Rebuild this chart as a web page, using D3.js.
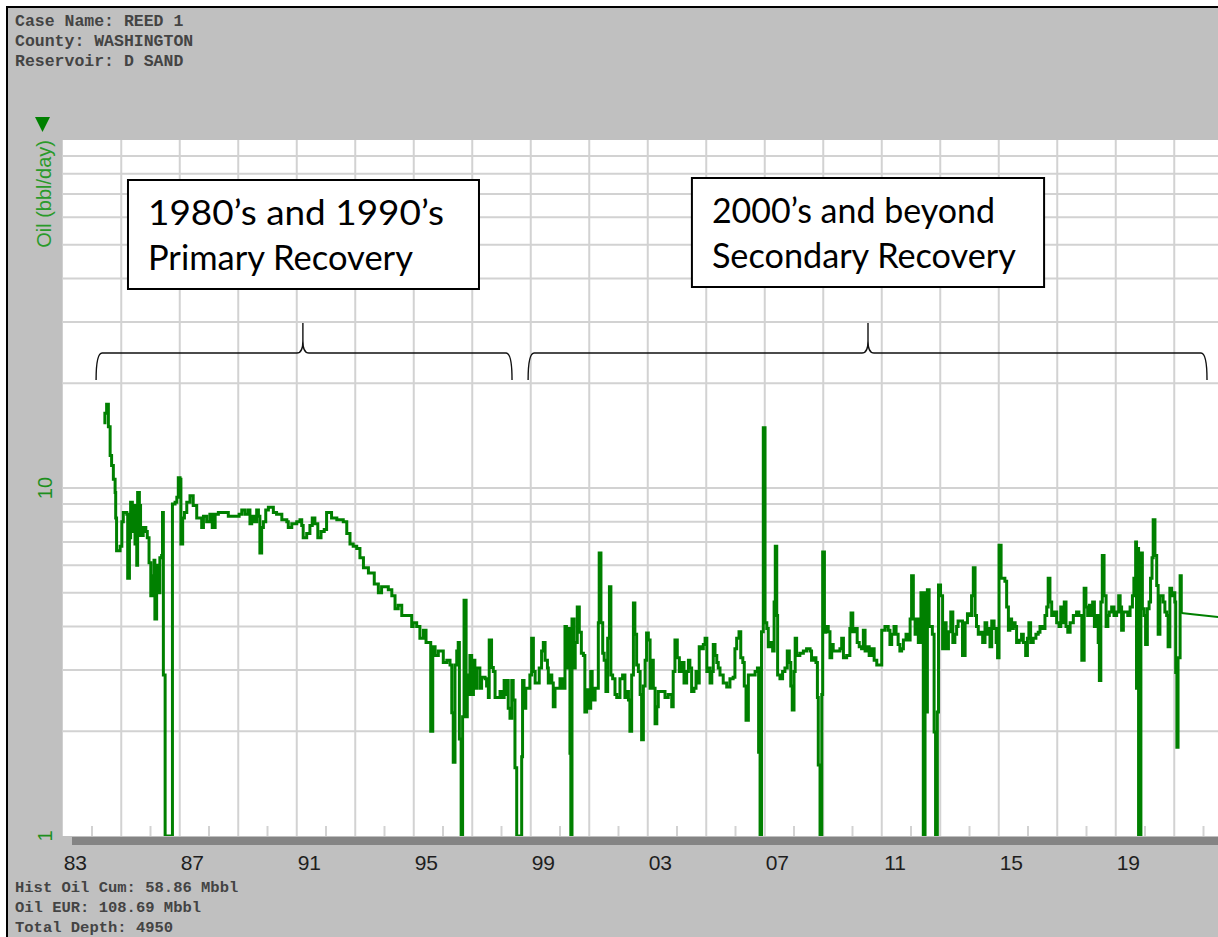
<!DOCTYPE html>
<html>
<head>
<meta charset="utf-8">
<script src="https://cdn.jsdelivr.net/npm/d3@7"></script>
<style>
  html, body { margin: 0; padding: 0; background: #fff; }
  svg { display: block; }
</style>
</head>
<body>
<svg id="chart"></svg>
<script>
var width = 1218;
var height = 937;

var headerLines = ["Case Name: REED 1", "County: WASHINGTON", "Reservoir: D SAND"];
var footerLines = ["Hist Oil Cum: 58.86 Mbbl", "Oil EUR: 108.69 Mbbl", "Total Depth: 4950"];

var labelYears = [1983, 1987, 1991, 1995, 1999, 2003, 2007, 2011, 2015, 2019];
var yearLabels = ["83", "87", "91", "95", "99", "03", "07", "11", "15", "19"];
var yTicks = [1, 10];
var yLabel = "Oil (bbl/day)";

// monthly oil rate, bbl/day  [decimal year, rate]  (0 = shut in)
var oil1983 = [[1983.39,15.4],[1983.44,16.4],[1983.50,17.4],[1983.56,15.0],[1983.62,12.4],[1983.67,11.6],[1983.73,10.6],[1983.79,9.7],[1983.81,8.2],[1983.84,6.6],[1983.96,6.8],[1984.02,8.0],[1984.07,8.5],[1984.19,8.4],[1984.22,5.5],[1984.28,7.2],[1984.32,9.1],[1984.38,7.5],[1984.44,8.9],[1984.47,6.9],[1984.53,6.0],[1984.56,9.7],[1984.62,8.9],[1984.66,7.3],[1984.75,7.7],[1984.84,7.5],[1984.89,7.2],[1984.95,6.1],[1985.01,4.9],[1985.06,5.6],[1985.12,6.2],[1985.15,4.2],[1985.21,6.0],[1985.27,5.0],[1985.32,6.3],[1985.38,6.4],[1985.41,8.5],[1985.44,2.9],[1985.50,0],[1985.75,9.0],[1985.84,9.1],[1985.90,9.4],[1985.95,10.7],[1986.01,10.6],[1986.04,6.9],[1986.10,8.2],[1986.16,8.5],[1986.24,9.1],[1986.35,9.5],[1986.46,8.9],[1986.58,8.2],[1986.75,7.7],[1986.81,8.3],[1986.92,8.0],[1987.03,8.4],[1987.11,7.7],[1987.21,8.4],[1987.32,8.5],[1987.55,8.5],[1987.66,8.3],[1987.89,8.3],[1988.03,8.4],[1988.12,8.65],[1988.23,8.4],[1988.34,8.65],[1988.40,7.9],[1988.46,8.3],[1988.55,8.0],[1988.63,8.65],[1988.69,8.3],[1988.74,6.5],[1988.80,7.7],[1988.86,8.0],[1988.94,8.65],[1989.03,8.8],[1989.20,8.5],[1989.31,8.4],[1989.49,8.1],[1989.66,8.0],[1989.71,7.7],[1989.83,7.9],[1990.00,8.0],[1990.11,8.1],[1990.17,7.8],[1990.22,7.2],[1990.34,7.4],[1990.45,7.8],[1990.53,8.2],[1990.62,7.9],[1990.72,7.2],[1990.83,7.5],[1990.94,7.6],[1991.02,8.5],[1991.19,8.2],[1991.37,8.1],[1991.59,8.0],[1991.71,7.4],[1991.82,6.9],[1991.93,6.8],[1992.05,6.7],[1992.16,6.3],[1992.28,5.9],[1992.45,5.7],[1992.56,5.7],[1992.65,5.3],[1992.79,5.0],[1992.90,5.2]];

var oil1993 = [[1993.13,5.1],[1993.25,4.9],[1993.36,4.5],[1993.47,4.6],[1993.59,4.3],[1993.76,4.3],[1993.93,4.0],[1993.98,4.1],[1994.10,4.0],[1994.21,3.7],[1994.33,3.9],[1994.42,3.6],[1994.50,3.6],[1994.58,2.0],[1994.65,3.5],[1994.73,3.3],[1994.84,3.4],[1994.96,3.4],[1995.01,3.15],[1995.13,3.2],[1995.24,3.1],[1995.30,2.26],[1995.35,1.63],[1995.41,3.1],[1995.47,3.4],[1995.52,3.6],[1995.56,1.9],[1995.62,0],[1995.67,2.2],[1995.72,4.76],[1995.79,2.2],[1995.83,2.9],[1995.86,2.55],[1995.92,3.3],[1995.98,2.55],[1996.04,3.2],[1996.09,2.66],[1996.15,3.04],[1996.26,2.66],[1996.32,2.86],[1996.44,2.83],[1996.49,2.7],[1996.55,2.5],[1996.58,3.66],[1996.66,3.05],[1996.72,2.97],[1996.78,2.5],[1996.95,2.6],[1997.01,2.5],[1997.09,2.8],[1997.15,2.55],[1997.18,2.8],[1997.23,2.33],[1997.29,2.18],[1997.35,2.8],[1997.40,2.46],[1997.46,1.57],[1997.52,0],[1997.69,1.69],[1997.72,2.8],[1997.77,2.33],[1997.83,2.66],[1997.97,2.9],[1998.03,3.7],[1998.09,2.97],[1998.15,2.75],[1998.29,3.04],[1998.37,3.4],[1998.43,3.6],[1998.49,3.2],[1998.57,3.04],[1998.60,2.75],[1998.66,2.9],[1998.72,2.75],[1998.77,2.35],[1998.83,2.66],[1999.00,2.83],[1999.09,2.66],[1999.17,4.0],[1999.22,3.04],[1999.28,3.95],[1999.34,1.73],[1999.37,0],[1999.41,4.2],[1999.48,3.04],[1999.52,3.6],[1999.59,4.55],[1999.66,3.85],[1999.73,3.35],[1999.80,3.3],[1999.85,2.27],[1999.91,2.63],[1999.97,2.33],[2000.05,2.97],[2000.10,2.46],[2000.20,2.66],[2000.31,4.1],[2000.34,6.5],[2000.40,4.1],[2000.46,3.35],[2000.51,3.2],[2000.57,2.6],[2000.63,3.7],[2000.69,5.2],[2000.74,2.9],[2000.80,2.83],[2000.88,2.55],[2000.94,2.5],[2001.05,2.83],[2001.14,2.9],[2001.22,2.5],[2001.28,2.6],[2001.34,2.46],[2001.39,2.0],[2001.45,2.9],[2001.51,4.67],[2001.56,3.8],[2001.62,3.1],[2001.68,2.97],[2001.74,2.55],[2001.79,1.89],[2001.85,2.7],[2001.91,3.2],[2001.96,3.83],[2002.02,3.66],[2002.08,2.66],[2002.13,3.2],[2002.19,2.66],[2002.25,2.1],[2002.31,2.35],[2002.36,2.6],[2002.48,2.6],[2002.59,2.5],[2002.70,2.55],[2002.82,2.35],[2002.87,2.97],[2002.93,3.66]];

var oil2003 = [[2003.01,3.25],[2003.08,2.97],[2003.16,3.15],[2003.24,2.75],[2003.33,2.97],[2003.39,3.2],[2003.44,3.04],[2003.50,2.6],[2003.58,2.66],[2003.65,2.97],[2003.69,2.75],[2003.76,3.5],[2003.84,3.45],[2003.90,3.55],[2003.96,3.7],[2004.02,2.97],[2004.07,3.04],[2004.13,2.75],[2004.19,2.97],[2004.24,3.55],[2004.30,3.3],[2004.36,3.15],[2004.41,3.04],[2004.47,2.9],[2004.58,2.75],[2004.70,2.68],[2004.81,2.83],[2004.92,2.86],[2004.98,3.45],[2005.04,3.7],[2005.12,3.86],[2005.18,3.25],[2005.25,3.15],[2005.30,2.7],[2005.36,2.15],[2005.44,2.9],[2005.55,2.9],[2005.67,2.97],[2005.75,3.04],[2005.79,1.74],[2005.84,0],[2005.89,3.86],[2005.95,14.9],[2006.01,4.1],[2006.07,3.95],[2006.12,3.5],[2006.20,3.6],[2006.27,3.4],[2006.32,4.7],[2006.36,6.8],[2006.41,4.3],[2006.44,2.9],[2006.52,2.83],[2006.61,2.97],[2006.69,3.04],[2006.77,3.4],[2006.84,3.15],[2006.89,2.7],[2006.94,2.3],[2007.00,2.97],[2007.04,3.7],[2007.09,3.3],[2007.20,3.35],[2007.32,3.4],[2007.43,3.45],[2007.55,3.4],[2007.60,3.2],[2007.68,3.25],[2007.75,3.15],[2007.80,2.5],[2007.83,1.6],[2007.89,0],[2007.95,2.55],[2007.98,6.55],[2008.04,3.85],[2008.09,4.0],[2008.17,3.86],[2008.23,3.25],[2008.29,3.55],[2008.34,3.4],[2008.57,3.45],[2008.63,3.7],[2008.69,3.25],[2008.80,3.3],[2008.91,3.95],[2008.95,4.37],[2009.01,3.86],[2009.09,3.95],[2009.16,3.6],[2009.23,3.5],[2009.31,3.45],[2009.37,3.9],[2009.43,3.4],[2009.48,3.5],[2009.57,3.3],[2009.66,3.45],[2009.74,3.2],[2009.83,3.1],[2010.00,3.9],[2010.11,4.0],[2010.22,3.9],[2010.28,3.55],[2010.34,3.8],[2010.42,4.0],[2010.49,3.8],[2010.56,3.55],[2010.62,3.4],[2010.68,3.45],[2010.74,3.66],[2010.83,3.8],[2010.91,3.66],[2010.97,4.2],[2011.02,5.6],[2011.08,4.2],[2011.14,3.8],[2011.19,4.2],[2011.25,3.6],[2011.31,4.2],[2011.34,5.0],[2011.39,3.6],[2011.42,0],[2011.48,5.0],[2011.51,2.27],[2011.56,5.1],[2011.62,4.0],[2011.73,3.8],[2011.79,1.99],[2011.84,0],[2011.90,2.27],[2011.94,5.26],[2012.01,4.9],[2012.08,3.45],[2012.13,4.1],[2012.20,3.45],[2012.28,3.86],[2012.36,4.4],[2012.43,3.6],[2012.50,3.8],[2012.56,4.0],[2012.61,4.15],[2012.76,3.3],[2012.85,4.1],[2012.93,4.35]];

var oil2013 = [[2013.02,4.3],[2013.07,4.9],[2013.13,5.9],[2013.19,4.3],[2013.24,4.0],[2013.30,3.8],[2013.38,3.85],[2013.45,3.6],[2013.53,4.1],[2013.59,3.8],[2013.64,3.95],[2013.70,3.5],[2013.76,4.15],[2013.84,3.95],[2013.91,3.6],[2013.96,3.25],[2014.01,6.85],[2014.08,5.5],[2014.21,5.4],[2014.27,4.55],[2014.33,3.9],[2014.38,4.2],[2014.44,3.95],[2014.50,4.1],[2014.56,4.0],[2014.61,3.6],[2014.70,3.65],[2014.78,3.8],[2014.84,3.6],[2014.92,3.3],[2014.98,3.7],[2015.03,4.1],[2015.09,3.6],[2015.18,3.7],[2015.27,3.8],[2015.35,3.85],[2015.41,4.0],[2015.50,3.95],[2015.58,4.3],[2015.64,4.55],[2015.69,5.5],[2015.75,4.7],[2015.81,4.3],[2015.89,4.4],[2015.98,4.1],[2016.06,4.0],[2016.12,4.55],[2016.19,4.1],[2016.24,4.7],[2016.30,4.0],[2016.36,3.85],[2016.44,4.1],[2016.55,4.3],[2016.66,4.4],[2016.74,4.3],[2016.84,3.2],[2016.92,5.15],[2016.98,4.55],[2017.04,4.3],[2017.10,4.6],[2017.15,4.3],[2017.21,4.7],[2017.27,4.0],[2017.35,4.3],[2017.40,3.6],[2017.44,2.8],[2017.49,4.7],[2017.54,6.4],[2017.60,4.9],[2017.67,4.0],[2017.73,4.3],[2017.78,4.4],[2017.86,4.55],[2017.94,4.3],[2018.03,4.4],[2018.10,4.9],[2018.15,4.55],[2018.20,3.9],[2018.26,4.4],[2018.41,4.3],[2018.49,4.55],[2018.57,4.9],[2018.62,5.5],[2018.68,7.0],[2018.71,2.66],[2018.75,6.7],[2018.78,0],[2018.86,6.5],[2018.91,4.5],[2018.97,4.3],[2019.02,3.55],[2019.08,4.5],[2019.14,4.7],[2019.19,5.5],[2019.24,6.3],[2019.28,8.1],[2019.34,6.4],[2019.40,5.25],[2019.45,3.8],[2019.51,4.9],[2019.62,4.7],[2019.68,4.4],[2019.74,4.3],[2019.79,3.5],[2019.85,5.15],[2019.91,4.9],[2019.96,5.0],[2020.02,4.7],[2020.05,2.95],[2020.09,1.8],[2020.13,3.25],[2020.20,5.6],[2020.24,4.37]];

var forecast = [[2020.24,4.37],[2020.7,4.33],[2021.6,4.25]];

// callouts: [start year, end year, peak year]
var braces = [[1983.14, 1997.36, 1990.21], [1997.91, 2021.12, 2009.53]];
var boxes = [
  {from: 1984.23, to: 1996.23, lines: ["1980\u2019s and 1990\u2019s", "Primary Recovery"], widths: [296, 265]},
  {from: 2003.51, to: 2015.55, lines: ["2000\u2019s and beyond", "Secondary Recovery"], widths: [283, 304]}
];

var margin = {top: 140, left: 62.75, bottom: 836};
var yearPx = 29.25;

var svg = d3.select("#chart")
            .attr("width", width)
            .attr("height", height)
            .style("font-family", "Liberation Sans, Arial, sans-serif");

// window frame
svg.append("rect").attr("x", 0).attr("y", 0).attr("width", width).attr("height", height).attr("fill", "#fff");
svg.append("rect").attr("x", 8).attr("y", 8).attr("width", width - 8).attr("height", height - 8).attr("fill", "#c0c0c0");
svg.append("line").attr("x1", 7).attr("x2", 7).attr("y1", 6).attr("y2", height).attr("stroke", "#000").attr("stroke-width", 2);
svg.append("line").attr("x1", 6).attr("x2", width).attr("y1", 7).attr("y2", 7).attr("stroke", "#000").attr("stroke-width", 2);

var x = d3.scaleLinear()
          .domain([1982, 2022])
          .range([margin.left, margin.left + 40 * yearPx]);

var y = d3.scaleLog()
          .domain([1, 100])
          .range([margin.bottom, margin.top]);

svg.append("rect")
   .attr("x", margin.left).attr("y", margin.top)
   .attr("width", width - margin.left).attr("height", margin.bottom - margin.top)
   .attr("fill", "#fff");

svg.append("clipPath").attr("id", "plotclip")
   .append("rect")
   .attr("x", margin.left).attr("y", margin.top)
   .attr("width", width - margin.left).attr("height", margin.bottom - margin.top);

var grid = svg.append("g").attr("stroke", "#d2d2d2").attr("stroke-width", 2);

var yGrid = [2,3,4,5,6,7,8,9,10,20,30,40,50,60,70,80,90];
grid.selectAll(".hgrid").data(yGrid).enter().append("line")
    .attr("x1", margin.left).attr("x2", width)
    .attr("y1", function(d){ return y(d); })
    .attr("y2", function(d){ return y(d); });

grid.selectAll(".vgrid").data(d3.range(1984, 2022, 2)).enter().append("line")
    .attr("x1", function(d){ return x(d); })
    .attr("x2", function(d){ return x(d); })
    .attr("y1", margin.top).attr("y2", margin.bottom);

grid.selectAll(".tick").data(d3.range(1983, 2022, 2)).enter().append("line")
    .attr("x1", function(d){ return x(d); })
    .attr("x2", function(d){ return x(d); })
    .attr("y1", margin.bottom - 10).attr("y2", margin.bottom);

// production
var rate = d3.line()
             .x(function(d){ return x(d[0]); })
             .y(function(d){ return y(Math.max(d[1], 1)); })
             .curve(d3.curveStepAfter);

var plot = svg.append("g").attr("clip-path", "url(#plotclip)");

plot.append("path")
    .datum(oil1983.concat(oil1993, oil2003, oil2013))
    .attr("d", rate)
    .attr("fill", "none")
    .attr("stroke", "#008000")
    .attr("stroke-width", 3);

plot.append("path")
    .datum(forecast)
    .attr("d", rate.curve(d3.curveLinear))
    .attr("fill", "none")
    .attr("stroke", "#008000")
    .attr("stroke-width", 2);

// scroll bar under the plot
svg.append("rect").attr("x", 72).attr("y", margin.bottom + 1)
   .attr("width", width - 72).attr("height", 8).attr("fill", "#848484");

// x labels
svg.selectAll(".xlab").data(labelYears).enter().append("text")
   .attr("x", function(d){ return x(d) - 5; })
   .attr("y", 870)
   .attr("text-anchor", "end")
   .attr("font-size", 21)
   .attr("fill", "#1e1e1e")
   .text(function(d, i){ return yearLabels[i]; });

// y axis
var green = "#1e8f1e";
svg.selectAll(".ylab").data(yTicks).enter().append("text")
   .attr("transform", function(d){ return "translate(52," + y(d) + ") rotate(-90)"; })
   .attr("text-anchor", "middle")
   .attr("font-size", 20)
   .attr("fill", green)
   .text(function(d){ return d; });

svg.append("text")
   .attr("transform", "translate(51,140) rotate(-90)")
   .attr("text-anchor", "end")
   .attr("font-size", 20)
   .attr("fill", "#2a9a2a")
   .text(yLabel);

svg.append("path").attr("d", "M35,117 L50,117 L42.5,132 Z").attr("fill", "#008000");

// header / footer
svg.selectAll(".head").data(headerLines).enter().append("text")
   .attr("x", 15).attr("y", function(d, i){ return 26 + i * 20; })
   .attr("font-family", "Liberation Mono, Courier New, monospace")
   .attr("font-size", 16.5).attr("font-weight", "bold")
   .attr("fill", "#444")
   .text(function(d){ return d; });

svg.selectAll(".foot").data(footerLines).enter().append("text")
   .attr("x", 15).attr("y", function(d, i){ return 892 + i * 20; })
   .attr("font-family", "Liberation Mono, Courier New, monospace")
   .attr("font-size", 15.5).attr("font-weight", "bold")
   .attr("fill", "#444")
   .text(function(d){ return d; });

// callouts
function bracePath(b){
  var x0 = x(b[0]), x1 = x(b[1]), xc = x(b[2]);
  var yb = 380, ym = 353, yt = 323, r = 6;
  return "M" + x0 + "," + yb +
         " Q" + x0 + "," + ym + " " + (x0 + r) + "," + ym +
         " L" + (xc - r) + "," + ym +
         " Q" + xc + "," + ym + " " + xc + "," + (ym - 12) +
         " L" + xc + "," + yt +
         " L" + xc + "," + (ym - 12) +
         " Q" + xc + "," + ym + " " + (xc + r) + "," + ym +
         " L" + (x1 - r) + "," + ym +
         " Q" + x1 + "," + ym + " " + x1 + "," + yb;
}

svg.selectAll(".brace").data(braces).enter().append("path")
   .attr("d", bracePath)
   .attr("fill", "none")
   .attr("stroke", "#111")
   .attr("stroke-width", 1.4);

var callout = svg.selectAll(".callout").data(boxes).enter().append("g");

callout.append("rect")
   .attr("x", function(d){ return x(d.from); })
   .attr("y", function(d, i){ return i === 0 ? 180 : 178; })
   .attr("width", function(d){ return x(d.to) - x(d.from); })
   .attr("height", 109)
   .attr("fill", "#fff")
   .attr("stroke", "#000")
   .attr("stroke-width", 2);

callout.each(function(d, i){
  var g = d3.select(this);
  d.lines.forEach(function(t, j){
    g.append("text")
     .attr("x", x(d.from) + 20)
     .attr("y", (i === 0 ? 225 : 223) + j * 45)
     .attr("font-family", "Lato, Open Sans, sans-serif")
     .attr("font-size", 34)
     .attr("fill", "#000")
     .attr("textLength", d.widths[j])
     .attr("lengthAdjust", "spacingAndGlyphs")
     .text(t);
  });
});
</script>
</body>
</html>
